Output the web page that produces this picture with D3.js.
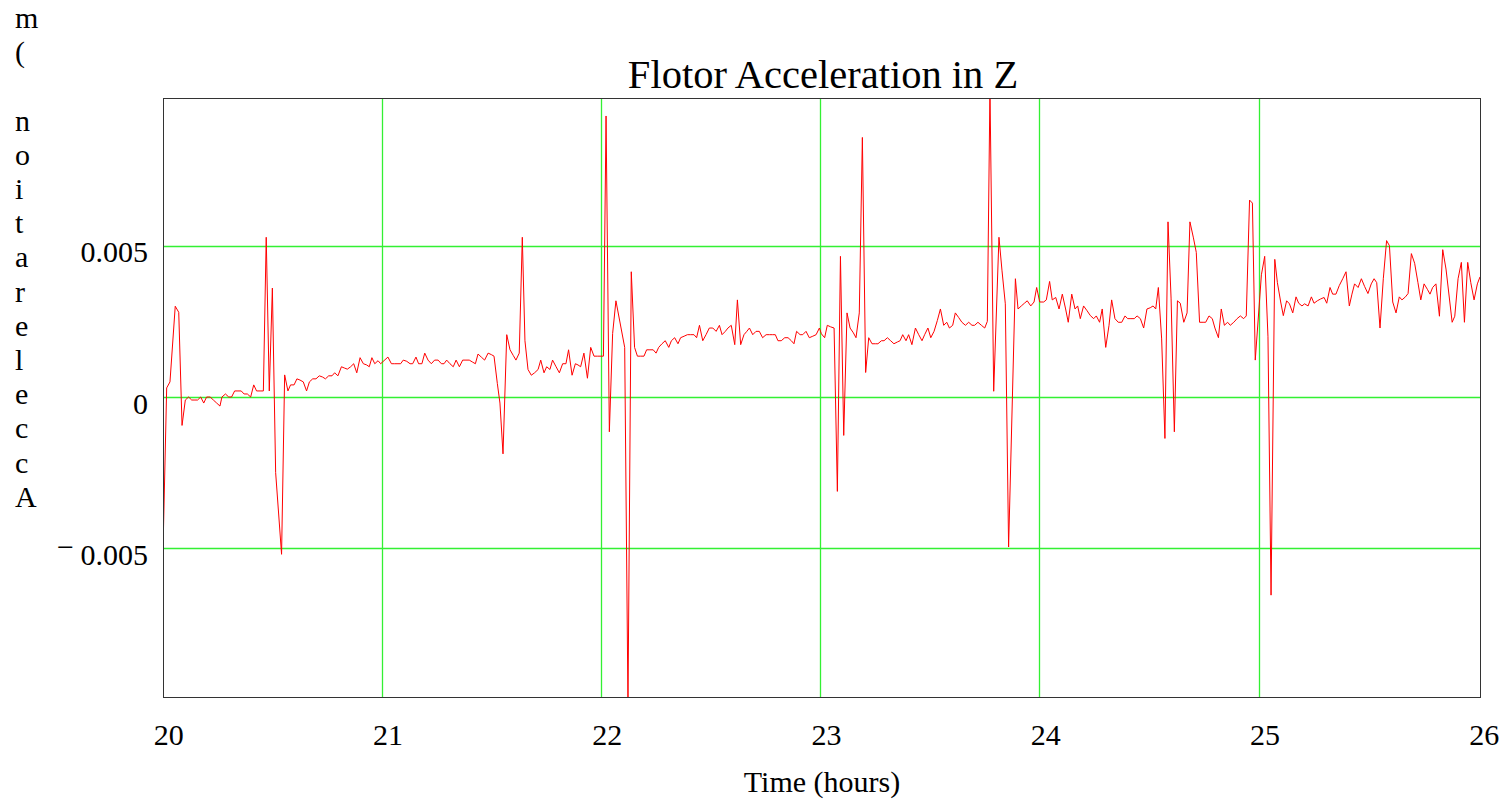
<!DOCTYPE html>
<html>
<head>
<meta charset="utf-8">
<script src="https://cdn.jsdelivr.net/npm/d3@7"></script>
<style>
  html, body { margin: 0; padding: 0; background: #fff; }
  svg { display: block; }
  text { font-family: "Liberation Serif", "Times New Roman", serif; fill: #000; }
</style>
</head>
<body>
<script>
// ---- data ----
const chartTitle = "Flotor Acceleration in Z";
const xLabel = "Time (hours)";
const yLabel = "Acceleration (m";
const xTicks = [20, 21, 22, 23, 24, 25, 26];
const yTicks = [0.005, 0, -0.005];
const unitScale = 1e-3; // accelMilli values are in units of 0.001

const timeHours = [
20.000,20.005,20.020,20.035,20.059,20.075,20.090,20.105,20.120,20.134,20.149,20.161,20.175,20.189,20.202,20.218,20.233,20.248,20.263,20.272,
20.288,20.303,20.316,20.330,20.345,20.360,20.373,20.388,20.403,20.417,20.430,20.446,20.461,20.474,20.488,20.502,20.517,20.544,20.558,20.573,
20.585,20.601,20.614,20.628,20.643,20.658,20.671,20.686,20.701,20.716,20.731,20.744,20.759,20.774,20.786,20.801,20.817,20.830,20.844,20.859,
20.873,20.887,20.902,20.917,20.932,20.944,20.956,20.969,20.984,20.996,21.011,
21.029,21.045,21.060,21.075,21.087,21.099,21.115,21.130,21.142,21.157,21.169,21.184,21.197,21.212,21.227,21.242,21.258,21.273,21.285,21.297,
21.312,21.327,21.340,21.355,21.370,21.385,21.400,21.416,21.428,21.440,21.455,21.470,21.486,21.501,21.513,21.528,21.540,21.554,21.571,21.586,
21.601,21.613,21.628,21.642,21.654,21.668,21.683,21.698,21.714,21.726,21.741,21.753,21.768,21.780,21.796,21.811,21.826,21.841,21.853,21.869,
21.884,21.896,21.908,21.923,21.939,21.954,21.969,21.984,
22.012,22.024,22.039,22.054,22.069,22.109,22.124,22.139,22.154,22.167,22.182,22.197,22.209,22.224,22.239,22.252,22.264,22.279,22.294,22.310,
22.322,22.337,22.352,22.364,22.380,22.395,22.410,22.425,22.437,22.450,22.465,22.480,22.495,22.511,22.526,22.541,22.553,22.568,22.580,22.595,
22.611,22.623,22.638,22.653,22.666,22.678,22.693,22.708,22.723,22.738,22.754,22.769,22.784,22.796,22.808,22.823,22.839,22.854,22.869,22.881,
22.893,22.909,22.921,22.936,22.951,22.967,22.982,22.997,
23.006,23.021,23.033,23.048,23.064,23.079,23.093,23.108,23.123,23.137,23.152,23.164,23.179,23.193,23.208,23.222,23.237,23.252,23.264,23.280,
23.292,23.307,23.322,23.337,23.353,23.365,23.377,23.392,23.404,23.419,23.435,23.450,23.465,23.477,23.492,23.505,23.520,23.535,23.549,23.564,
23.578,23.590,23.605,23.617,23.632,23.647,23.663,23.678,23.693,23.705,23.720,23.736,23.751,23.763,23.775,23.792,23.816,23.830,23.845,23.860,
23.891,23.903,23.918,23.932,23.945,23.961,23.976,23.988,24.002,
24.020,24.032,24.047,24.059,24.075,24.090,24.105,24.120,24.132,24.148,24.163,24.175,24.187,24.202,24.218,24.233,24.248,24.260,24.275,24.287,
24.303,24.318,24.330,24.345,24.360,24.376,24.391,24.403,24.418,24.433,24.446,24.461,24.476,24.491,24.506,24.519,24.531,24.543,24.558,24.573,
24.587,24.601,24.616,24.630,24.643,24.659,24.674,24.687,24.703,24.716,24.731,24.747,24.759,24.774,24.789,24.801,24.817,24.830,24.844,24.859,
24.871,24.887,24.902,24.917,24.932,24.944,24.959,24.972,24.985,
25.013,25.028,25.043,25.057,25.074,25.086,25.101,25.113,25.128,25.141,25.156,25.171,25.183,25.198,25.210,25.226,25.241,25.253,25.268,25.283,
25.299,25.311,25.326,25.338,25.353,25.368,25.384,25.399,25.414,25.426,25.438,25.454,25.469,25.484,25.499,25.514,25.527,25.539,25.554,25.569,
25.584,25.597,25.612,25.627,25.642,25.654,25.670,25.682,25.697,25.712,25.727,25.740,25.755,25.770,25.782,25.794,25.809,25.825,25.840,25.855,
25.883,25.895,25.910,25.925,25.939,25.954,25.968,25.983,25.998,26.010
];

const accelMilli = [
-0.6,-4.5,0.3,0.5,3.0,2.8,-0.94,-0.1,0,-0.1,-0.1,-0.1,0,-0.2,0,0,-0.1,-0.2,-0.3,0,
0.1,0,0,0.2,0.2,0.2,0.1,0.1,0,0.4,0.2,0.2,0.2,5.28,0.2,3.6,-2.5,-5.2,0.73,0.2,
0.4,0.4,0.6,0.56,0.5,0.2,0.5,0.6,0.6,0.7,0.66,0.6,0.7,0.7,0.8,0.7,1.0,0.96,0.92,1.0,
1.1,0.8,1.3,1.1,1.06,1.0,1.3,1.1,1.2,1.1,1.2,
1.32,1.1,1.1,1.1,1.1,1.22,1.18,1.1,1.1,1.32,1.1,1.1,1.45,1.22,1.1,1.22,1.22,1.1,1.1,1.22,
1.1,1.0,1.22,1.0,1.22,1.22,1.22,1.15,1.1,1.42,1.32,1.22,1.45,1.4,1.35,0.45,-0.2,-1.88,2.06,1.56,
1.37,1.22,1.45,5.28,1.86,0.91,0.72,0.8,0.91,1.22,0.8,1.0,0.91,1.22,1.0,0.8,1.1,1.1,1.56,0.72,
1.1,1.06,1.0,1.45,0.62,1.64,1.35,1.35,
1.35,9.29,-1.15,2.1,3.18,1.64,-10.2,4.14,1.64,1.35,1.35,1.35,1.56,1.56,1.56,1.45,1.64,1.76,1.86,1.64,
1.86,1.96,1.76,1.96,2.01,2.06,2.06,2.06,1.96,2.37,1.86,2.06,2.28,2.28,2.17,2.37,2.06,2.17,2.28,2.37,
1.73,3.21,1.73,2.06,2.17,2.28,2.06,2.17,2.17,1.96,2.06,2.06,2.06,2.06,1.86,1.86,1.96,1.96,1.86,1.76,
2.17,2.06,2.06,2.17,1.96,2.01,2.06,2.28,
2.09,1.96,2.37,2.32,2.28,-3.12,4.65,-1.27,2.78,2.28,2.12,1.96,2.78,8.58,0.81,1.96,1.76,1.76,1.76,1.86,
1.86,1.96,1.86,1.76,1.82,1.86,2.06,1.86,2.06,1.73,2.28,2.06,1.86,2.06,2.28,1.96,2.17,2.53,2.91,2.37,
2.47,2.28,2.37,2.78,2.63,2.47,2.37,2.47,2.37,2.37,2.47,2.37,2.28,2.5,10.2,0.19,5.28,4.17,3.08,-4.96,
3.91,2.91,3.01,3.1,3.18,3.01,3.14,3.62,3.14,
3.14,3.21,3.82,3.21,3.29,2.91,3.4,2.91,2.47,3.4,2.91,3.01,2.59,3.01,2.85,2.69,2.59,2.68,2.47,2.91,
1.64,2.37,3.21,2.59,2.47,2.47,2.68,2.59,2.59,2.59,2.68,2.59,2.28,2.91,2.95,3.01,2.91,3.62,1.92,-1.37,
5.79,3.27,-1.15,3.18,3.1,2.47,2.78,5.79,5.26,4.78,2.47,2.47,2.47,2.68,2.59,2.28,1.96,2.91,2.37,2.47,
2.37,2.47,2.59,2.68,2.59,2.68,6.51,6.41,1.22,
4.04,4.65,1.99,-6.55,4.55,3.78,3.14,2.69,3.18,3.08,2.78,3.31,3.1,3.01,3.08,3.01,3.31,3.1,3.18,3.24,
3.29,3.1,3.62,3.4,3.4,3.68,3.91,4.14,3.01,3.4,3.74,3.62,3.91,3.65,3.42,3.74,3.91,3.78,2.28,3.91,
5.17,5.0,3.14,2.78,3.31,3.21,3.31,3.42,4.74,4.42,3.78,3.21,3.74,3.56,3.4,3.62,3.74,2.67,4.87,4.23,
2.47,2.67,3.91,4.45,2.47,4.45,3.78,3.21,3.74,3.97
];

// ---- layout ----
const W = 1508, H = 802;
const frame = { left: 163, top: 98, right: 1480, bottom: 697 };

const svg = d3.select("body").append("svg")
  .attr("width", W).attr("height", H)
  .style("background", "#fff");

const x = d3.scaleLinear().domain([20, 26]).range([162.3, 1477.8]);
const y = d3.scaleLinear().domain([-0.009917, 0.009884]).range([frame.bottom, frame.top]);

const gridColor = "#33f033";

// vertical gridlines
svg.append("g").selectAll("line")
  .data(xTicks.filter(t => t > 20 && t < 26))
  .join("line")
  .attr("x1", d => Math.round(x(d)) + 0.5).attr("x2", d => Math.round(x(d)) + 0.5)
  .attr("y1", frame.top).attr("y2", frame.bottom)
  .attr("stroke", gridColor).attr("stroke-width", 1.3);

// horizontal gridlines
svg.append("g").selectAll("line")
  .data(yTicks)
  .join("line")
  .attr("x1", frame.left).attr("x2", frame.right)
  .attr("y1", d => Math.round(y(d)) + 0.5).attr("y2", d => Math.round(y(d)) + 0.5)
  .attr("stroke", gridColor).attr("stroke-width", 1.3);

// clip
svg.append("clipPath").attr("id", "plotclip")
  .append("rect")
  .attr("x", frame.left).attr("y", frame.top)
  .attr("width", frame.right - frame.left).attr("height", frame.bottom - frame.top);

const data = timeHours.map((t, i) => ({ t, v: accelMilli[i] * unitScale }));
const line = d3.line().x(d => x(d.t)).y(d => y(d.v));

svg.append("path")
  .datum(data)
  .attr("clip-path", "url(#plotclip)")
  .attr("fill", "none")
  .attr("stroke", "#ff0000")
  .attr("stroke-width", 1)
  .attr("stroke-linejoin", "miter")
  .attr("d", line);

// frame
svg.append("rect")
  .attr("x", frame.left + 0.5).attr("y", frame.top + 0.5)
  .attr("width", frame.right - frame.left).attr("height", frame.bottom - frame.top)
  .attr("fill", "none").attr("stroke", "#333").attr("stroke-width", 1);

// x axis labels
const xAxis = d3.axisBottom(x).tickValues(xTicks).tickSize(0).tickPadding(26.7)
  .tickFormat(d3.format("d"));
const gx = svg.append("g").attr("transform", `translate(6,${frame.bottom})`).call(xAxis);
gx.select(".domain").remove();
gx.selectAll("text").attr("font-size", 30).attr("font-family", "Liberation Serif").attr("fill", "#000");

// y axis labels
const yAxis = d3.axisLeft(y).tickValues(yTicks).tickSize(0).tickPadding(15)
  .tickFormat(d => d === 0 ? "0" : d3.format(".3f")(Math.abs(d)));
const gy = svg.append("g").attr("transform", `translate(${frame.left},0)`).call(yAxis);
gy.select(".domain").remove();
gy.selectAll("text")
  .attr("font-size", 30).attr("font-family", "Liberation Serif").attr("fill", "#000")
  .attr("dy", null).attr("y", 16);
gy.selectAll(".tick").filter(d => d < 0)
  .append("text")
  .attr("x", -89).attr("y", 8)
  .attr("text-anchor", "end")
  .attr("font-size", 30).attr("font-family", "Liberation Serif").attr("fill", "#000")
  .text("\u2212");

// title
svg.append("text")
  .attr("x", 823).attr("y", 88)
  .attr("text-anchor", "middle")
  .attr("font-size", 40.5)
  .text(chartTitle);

// x label
svg.append("text")
  .attr("x", 822).attr("y", 792)
  .attr("text-anchor", "middle")
  .attr("font-size", 30)
  .text(xLabel);

// y label: characters stacked upright, reversed order
const yChars = Array.from(yLabel).reverse();
svg.append("g").selectAll("text")
  .data(yChars)
  .join("text")
  .attr("x", 15)
  .attr("y", (d, i) => 28 + 34.2 * i)
  .attr("font-size", 30)
  .text(d => d);
</script>
</body>
</html>
